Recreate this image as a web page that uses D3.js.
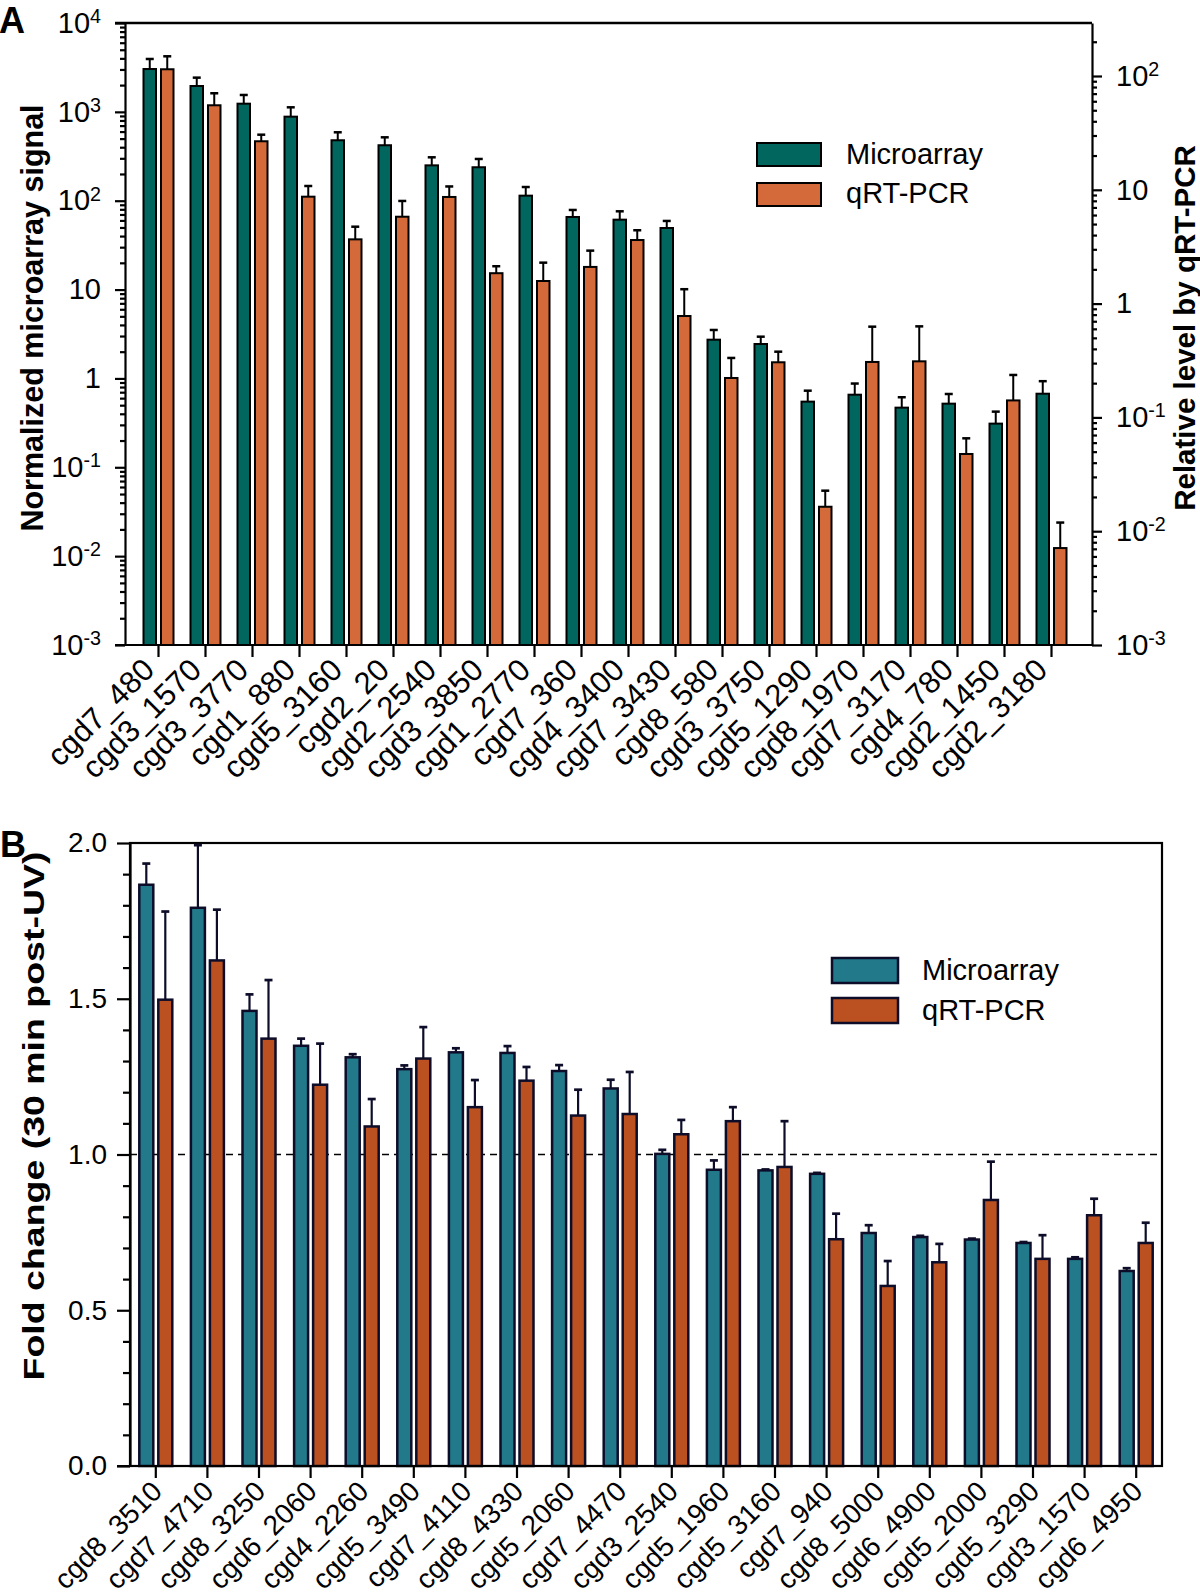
<!DOCTYPE html>
<html>
<head>
<meta charset="utf-8">
<script src="https://cdn.jsdelivr.net/npm/d3@7"></script>
<style>
  body { margin: 0; background: #fff; }
  text { font-family: "Liberation Sans", Arial, sans-serif; }
</style>
</head>
<body>
<script>
// ---- panel A data (log scale) ----
const genesA = ["cgd7_480", "cgd3_1570", "cgd3_3770", "cgd1_880", "cgd5_3160", "cgd2_20",
  "cgd2_2540", "cgd3_3850", "cgd1_2770", "cgd7_360", "cgd4_3400", "cgd7_3430", "cgd8_580",
  "cgd3_3750", "cgd5_1290", "cgd8_1970", "cgd7_3170", "cgd4_780", "cgd2_1450", "cgd2_3180"];
const microA = [3035, 1954, 1236, 883, 479, 421, 250, 238, 114, 65.6, 61.2, 49.3, 2.73, 2.44,
  0.548, 0.656, 0.469, 0.52, 0.31, 0.673];
const microAErr = [901, 473, 313, 242, 110, 96, 58, 57, 28.6, 13.1, 14.8, 9.9, 0.78, 0.51,
  0.18, 0.22, 0.145, 0.148, 0.113, 0.258];
const qpcrA = [114.6, 55.3, 26.7, 8.7, 3.67, 5.8, 8.65, 1.85, 1.58, 2.10, 3.62, 0.778, 0.222,
  0.305, 0.0164, 0.307, 0.311, 0.0477, 0.141, 0.00711];
const qpcrAErr = [34.4, 15.2, 3.8, 2.1, 1.07, 2.18, 2.05, 0.28, 0.71, 0.82, 0.79, 0.56, 0.111,
  0.073, 0.0063, 0.32, 0.32, 0.0178, 0.095, 0.0048];

// ---- panel B data (fold change) ----
const genesB = ["cgd8_3510", "cgd7_4710", "cgd8_3250", "cgd6_2060", "cgd4_2260", "cgd5_3490",
  "cgd7_4110", "cgd8_4330", "cgd5_2060", "cgd7_4470", "cgd3_2540", "cgd5_1960", "cgd5_3160",
  "cgd7_940", "cgd8_5000", "cgd6_4900", "cgd5_2000", "cgd5_3290", "cgd3_1570", "cgd6_4950"];
const microB = [1.866, 1.792, 1.461, 1.349, 1.312, 1.274, 1.328, 1.326, 1.268, 1.212, 1.002,
  0.951, 0.949, 0.938, 0.748, 0.735, 0.727, 0.716, 0.665, 0.626];
const microBErr = [0.068, 0.201, 0.053, 0.023, 0.010, 0.012, 0.013, 0.022, 0.019, 0.028, 0.013,
  0.030, 0.003, 0.003, 0.025, 0.004, 0.003, 0.003, 0.005, 0.009];
const qpcrB = [1.497, 1.623, 1.372, 1.224, 1.090, 1.308, 1.152, 1.237, 1.125, 1.130, 1.065,
  1.107, 0.960, 0.728, 0.578, 0.654, 0.854, 0.665, 0.805, 0.716];
const qpcrBErr = [0.283, 0.163, 0.188, 0.132, 0.088, 0.101, 0.087, 0.044, 0.083, 0.135, 0.046,
  0.045, 0.147, 0.082, 0.080, 0.059, 0.123, 0.076, 0.053, 0.065];

const seriesNames = ["Microarray", "qRT-PCR"];
const bTicks = d3.range(21).map(i => i / 10);

const WIDTH = 1200;
const HEIGHT = 1595;

const svg = d3.select('body')
  .append('svg')
  .attr('width', WIDTH)
  .attr('height', HEIGHT);

function isMajor(v) {
  const l = Math.log10(v);
  return Math.abs(l - Math.round(l)) < 1e-9;
}

function logTicks(lo, hi, max) {
  let out = [];
  for (let e = lo; e <= hi; e++) {
    for (let m = 1; m <= 9; m++) {
      const v = m * Math.pow(10, e);
      if (v <= max * 1.0001) out.push(v);
    }
  }
  return out;
}

function supLabels(g) {
  g.selectAll('.tick text').each(function(d) {
    const t = d3.select(this);
    t.text(null);
    if (!isMajor(d)) return;
    const e = Math.round(Math.log10(d));
    if (e === 0) { t.text('1'); return; }
    if (e === 1) { t.text('10'); return; }
    t.append('tspan').text('10');
    t.append('tspan').attr('dy', '-0.5em').attr('font-size', '0.68em').text(e);
  });
}

function errorBars(g, cx, yTop, yEnd, color, w) {
  g.append('line').attr('x1', cx).attr('x2', cx).attr('y1', yTop).attr('y2', yEnd)
    .attr('stroke', color).attr('stroke-width', w);
  g.append('line').attr('x1', cx - 4).attr('x2', cx + 4).attr('y1', yEnd).attr('y2', yEnd)
    .attr('stroke', color).attr('stroke-width', w + 0.5);
}

// ================= PANEL A =================
const A = { left: 125, right: 1092, top: 23, bottom: 645 };
const colA = ["#00665e", "#d4693a"];

const xA = d3.scaleBand().domain(genesA).range([135, 1075]);
const yL = d3.scaleLog().domain([1e-3, 1e4]).range([A.bottom, A.top]);
const yR0 = d3.scaleLog().domain([1e-3, 1e2]).range([A.bottom, 76]);
const yR = d3.scaleLog().domain([1e-3, yR0.invert(A.top)]).range([A.bottom, A.top]);

const gA = svg.append('g');
const barW = 12.5;

genesA.forEach((gene, i) => {
  const c = xA(gene) + xA.bandwidth() / 2;
  // microarray (left axis)
  gA.append('rect')
    .attr('x', c - 2.5 - barW).attr('width', barW)
    .attr('y', yL(microA[i])).attr('height', A.bottom - yL(microA[i]))
    .attr('fill', colA[0]).attr('stroke', '#000').attr('stroke-width', 2);
  errorBars(gA, c - 2.5 - barW / 2, yL(microA[i]), yL(microA[i] + microAErr[i]), '#000', 2);
  // qRT-PCR (right axis)
  gA.append('rect')
    .attr('x', c + 2.5).attr('width', barW)
    .attr('y', yR(qpcrA[i])).attr('height', A.bottom - yR(qpcrA[i]))
    .attr('fill', colA[1]).attr('stroke', '#000').attr('stroke-width', 2);
  errorBars(gA, c + 2.5 + barW / 2, yR(qpcrA[i]), yR(qpcrA[i] + qpcrAErr[i]), '#000', 2);
});

// frame
gA.append('line').attr('x1', A.left - 10).attr('x2', A.right).attr('y1', A.top).attr('y2', A.top)
  .attr('stroke', '#000').attr('stroke-width', 2.5);

const axL = gA.append('g').attr('transform', 'translate(' + A.left + ',0)')
  .call(d3.axisLeft(yL).tickValues(logTicks(-3, 4, 1e4)).tickSize(10).tickSizeOuter(0).tickPadding(14));
axL.call(supLabels);
axL.selectAll('.tick line').attr('x2', d => isMajor(d) ? -10 : -5);

const axR = gA.append('g').attr('transform', 'translate(' + A.right + ',0)')
  .call(d3.axisRight(yR).tickValues(logTicks(-3, 2, yR.domain()[1])).tickSize(10).tickSizeOuter(0).tickPadding(14));
axR.call(supLabels);
axR.selectAll('.tick line').attr('x2', d => isMajor(d) ? 10 : 5);

const axXA = gA.append('g').attr('transform', 'translate(0,' + A.bottom + ')')
  .call(d3.axisBottom(xA).tickSize(12).tickSizeOuter(0));
axXA.select('.domain').attr('d', 'M' + (A.left - 10) + ',0H' + A.right);
axXA.selectAll('.tick text')
  .attr('text-anchor', 'end')
  .attr('transform', 'translate(-10,19) rotate(-45)')
  .attr('dy', '0.35em').attr('y', 0).attr('x', 0);

[axL, axR, axXA].forEach(a => {
  a.attr('font-size', 29).attr('font-family', null);
  a.selectAll('path, line').attr('stroke', '#000').attr('stroke-width', 2.2);
});
axXA.attr('font-size', 31);

// titles
gA.append('text').attr('transform', 'translate(43,318) rotate(-90)')
  .attr('text-anchor', 'middle').attr('font-weight', 'bold').attr('font-size', 30.5)
  .text('Normalized microarray signal');
gA.append('text').attr('transform', 'translate(1195,328) rotate(-90)')
  .attr('text-anchor', 'middle').attr('font-weight', 'bold').attr('font-size', 29.5)
  .text('Relative level by qRT-PCR');
gA.append('text').attr('x', -1).attr('y', 33).attr('font-weight', 'bold').attr('font-size', 36).text('A');

// legend
seriesNames.forEach((s, i) => {
  gA.append('rect').attr('x', 757).attr('y', 143 + i * 40).attr('width', 64).attr('height', 23)
    .attr('fill', colA[i]).attr('stroke', '#000').attr('stroke-width', 2);
  gA.append('text').attr('x', 846).attr('y', 164 + i * 39).attr('font-size', 29).text(s);
});

// ================= PANEL B =================
const B = { left: 130, right: 1162, top: 843, bottom: 1466 };
const colB = ["#21798a", "#bb5020"];
const strokeB = "#0d0d2a";

const xB = d3.scaleBand().domain(genesB).range([B.left, B.right]);
const yB = d3.scaleLinear().domain([0, 2]).range([B.bottom, B.top]);
const gB = svg.append('g');
const barWB = 14;

// frame
gB.append('rect').attr('x', B.left).attr('y', B.top).attr('width', B.right - B.left).attr('height', B.bottom - B.top)
  .attr('fill', 'none').attr('stroke', '#000').attr('stroke-width', 2.2);

gB.append('line').attr('x1', B.left).attr('x2', B.right).attr('y1', yB(1)).attr('y2', yB(1))
  .attr('stroke', '#000').attr('stroke-width', 1.6).attr('stroke-dasharray', '7,5');

genesB.forEach((gene, i) => {
  const c = xB(gene) + xB.bandwidth() / 2;
  gB.append('rect')
    .attr('x', c - 2.5 - barWB).attr('width', barWB)
    .attr('y', yB(microB[i])).attr('height', B.bottom - yB(microB[i]))
    .attr('fill', colB[0]).attr('stroke', strokeB).attr('stroke-width', 2.5);
  errorBars(gB, c - 2.5 - barWB / 2, yB(microB[i]), yB(microB[i] + microBErr[i]), strokeB, 2.2);
  gB.append('rect')
    .attr('x', c + 2.5).attr('width', barWB)
    .attr('y', yB(qpcrB[i])).attr('height', B.bottom - yB(qpcrB[i]))
    .attr('fill', colB[1]).attr('stroke', strokeB).attr('stroke-width', 2.5);
  errorBars(gB, c + 2.5 + barWB / 2, yB(qpcrB[i]), yB(qpcrB[i] + qpcrBErr[i]), strokeB, 2.2);
});

const axBL = gB.append('g').attr('transform', 'translate(' + B.left + ',0)')
  .call(d3.axisLeft(yB).tickValues(bTicks).tickSize(13).tickSizeOuter(0).tickPadding(10)
    .tickFormat((d, i) => i % 5 === 0 ? d3.format('.1f')(d) : ''));
axBL.selectAll('.tick line').attr('x2', (d, i) => i % 5 === 0 ? -13 : -7);

const axXB = gB.append('g').attr('transform', 'translate(0,' + B.bottom + ')')
  .call(d3.axisBottom(xB).tickSize(12).tickSizeOuter(0));
axXB.select('.domain').attr('d', 'M' + (B.left - 13) + ',0H' + B.right);
axXB.selectAll('.tick text')
  .attr('text-anchor', 'end')
  .attr('transform', 'translate(1,20) rotate(-45)')
  .attr('dy', '0.35em').attr('y', 0).attr('x', 0);

[axBL, axXB].forEach(a => {
  a.attr('font-size', 28).attr('font-family', null);
  a.selectAll('path, line').attr('stroke', '#000').attr('stroke-width', 2.2);
});
axXB.attr('font-size', 28);

gB.append('text').attr('transform', 'translate(44,1116) rotate(-90) scale(1.25,1)')
  .attr('text-anchor', 'middle').attr('font-weight', 'bold').attr('font-size', 30)
  .text('Fold change (30 min post-UV)');
gB.append('text').attr('x', 0).attr('y', 857).attr('font-weight', 'bold').attr('font-size', 36).text('B');

seriesNames.forEach((s, i) => {
  gB.append('rect').attr('x', 832).attr('y', 958 + i * 40).attr('width', 66).attr('height', 25)
    .attr('fill', colB[i]).attr('stroke', strokeB).attr('stroke-width', 2.5);
  gB.append('text').attr('x', 922).attr('y', 980 + i * 40).attr('font-size', 29).text(s);
});
</script>
</body>
</html>
